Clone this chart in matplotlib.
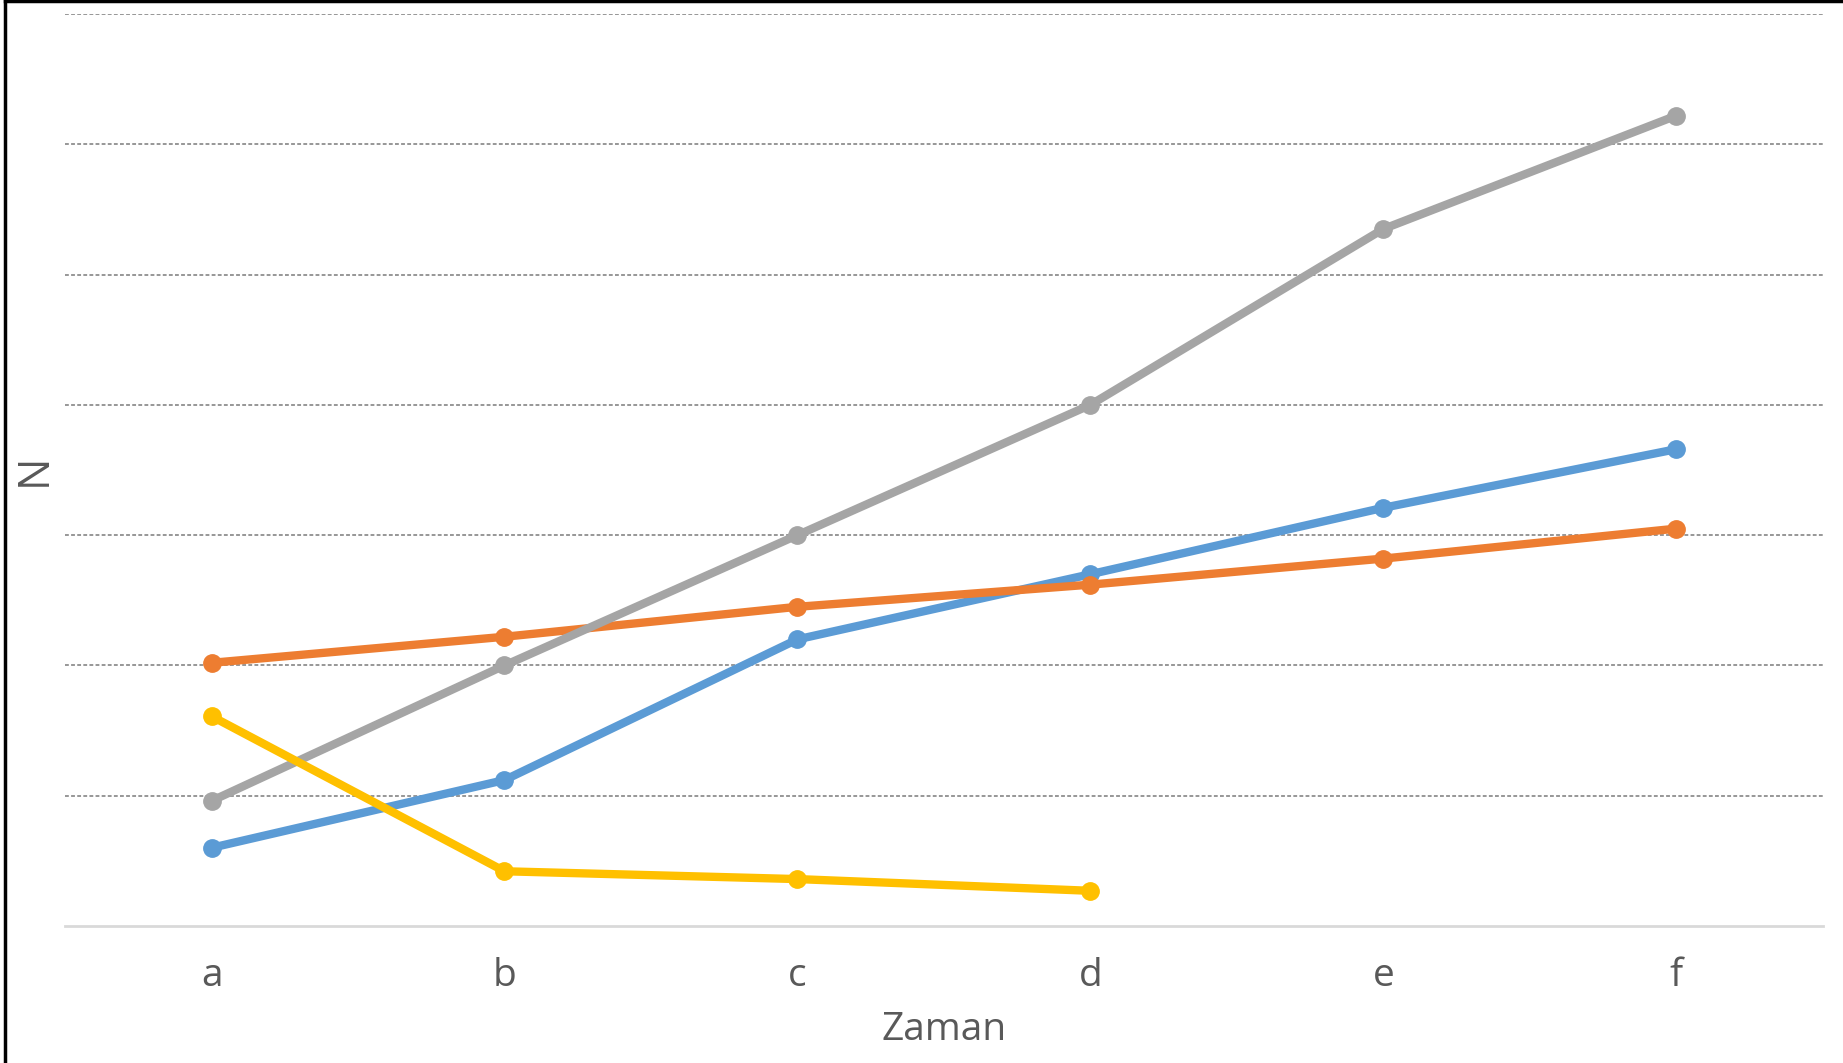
import matplotlib
matplotlib.use("Agg")
import matplotlib.pyplot as plt
from matplotlib.lines import Line2D

categories = ["a", "b", "c", "d", "e", "f"]
blue = [0.60, 1.12, 2.20, 2.70, 3.21, 3.66]
orange = [2.02, 2.22, 2.45, 2.62, 2.82, 3.05]
gray = [0.96, 2.00, 3.00, 4.00, 5.35, 6.22]
yellow = [1.61, 0.42, 0.36, 0.27]

plt.rcParams["font.family"] = ["Open Sans", "DejaVu Sans"]
txt = "#595959"

fig = plt.figure(figsize=(18.43, 10.63), dpi=100)
ax = fig.add_axes([0.0353, 0.1289, 0.9537, 0.8579])

x = list(range(len(categories)))
for vals, col in [(blue, "#5B9BD5"), (orange, "#ED7D31"),
                  (gray, "#A5A5A5"), (yellow, "#FFC000")]:
    ax.plot(x[:len(vals)], vals, color=col, lw=6, marker="o", ms=12.5,
            solid_capstyle="round", clip_on=False)

ax.set_xlim(-0.5, 5.5)
ax.set_ylim(0, 7)
ax.set_yticks(range(1, 8))
ax.set_yticklabels([])
ax.tick_params(axis="y", length=0)
ax.grid(True, axis="y", color="#7a7a7a", ls=(0, (2.5, 1.5)), lw=1.1)
ax.set_axisbelow(True)

ax.set_xticks(x)
ax.set_xticklabels(categories, fontsize=28, color=txt)
ax.tick_params(axis="x", length=0, pad=22)
for s in ("top", "right", "left"):
    ax.spines[s].set_visible(False)
ax.spines["bottom"].set_color("#d9d9d9")
ax.spines["bottom"].set_linewidth(2)

ax.set_xlabel("Zaman", fontsize=28, color=txt, labelpad=12)
ax.set_ylabel("N", fontsize=31, color=txt)
ax.yaxis.set_label_coords(-0.005, 0.5)

# outer frame (left and top only)
fig.add_artist(Line2D([0.0025, 0.0025], [0, 0.999], transform=fig.transFigure,
                      color="black", lw=2.5))
fig.add_artist(Line2D([0.0025, 1], [0.999, 0.999], transform=fig.transFigure,
                      color="black", lw=2.5))

fig.savefig("out.png", dpi=100)
